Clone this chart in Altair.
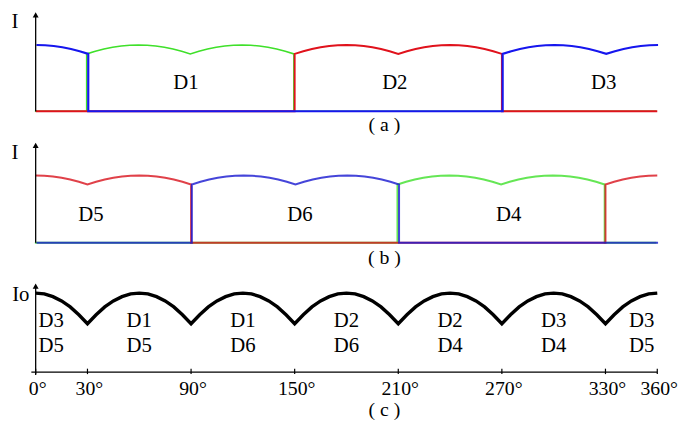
import altair as alt
import pandas as pd

# ---------------- data ----------------
grid_deg = list(range(0, 361, 5))
# one 60-degree ripple period (0..55 deg, step 5):
# peaks at 0/60/120..., dips at 30/90/150...
diode_period = [1.000, 0.996, 0.985, 0.966, 0.940, 0.906, 0.866, 0.906, 0.940, 0.966, 0.985, 0.996]
io_period = [1.000, 0.990, 0.955, 0.900, 0.825, 0.725, 0.612, 0.725, 0.825, 0.900, 0.955, 0.990]
diode_ripple = diode_period * 6 + [1.000]
io_ripple = io_period * 6 + [1.000]

# conduction intervals (degrees)
panel_a_names = ["D1", "D2", "D3"]
panel_a_intervals = [[(30, 150)], [(150, 270)], [(0, 30), (270, 360)]]
panel_a_colors = ["#3fe02a", "#e0121c", "#1616ee"]

panel_b_names = ["D4", "D5", "D6"]
panel_b_intervals = [[(210, 330)], [(0, 90), (330, 360)], [(90, 210)]]
panel_b_colors = ["#3fe02a", "#d8121c", "#1616d0"]

a_labels = ["D1", "D2", "D3"]
a_label_deg = [87, 208, 329]
b_labels = ["D5", "D6", "D4"]
b_label_deg = [32, 153, 274]
c_labels_top = ["D3", "D1", "D1", "D2", "D2", "D3", "D3"]
c_labels_bottom = ["D5", "D5", "D6", "D6", "D4", "D4", "D5"]
c_label_deg = [9, 60, 120, 180, 240, 300, 351]
tick_deg = [0, 30, 90, 150, 210, 270, 330, 360]
tick_labels = ["0°", "30°", "90°", "150°", "210°", "270°", "330°", "360°"]
captions = ["( a )", "( b )", "( c )"]
caption_deg = 202

# ---------------- layout ----------------
W, H = 680, 414
PX_PER_DEG = 629 / 360
X_LO = -(36 - 8) / PX_PER_DEG
X_HI = X_LO + W / PX_PER_DEG
FONT = "Liberation Serif"

xscale = alt.Scale(domain=[X_LO, X_HI], nice=False, zero=False)


def yscale(base_px, unit_px):
    hi = base_px / unit_px
    lo = hi - H / unit_px
    return alt.Scale(domain=[lo, hi], nice=False, zero=False)


def diode_points(intervals):
    rows = []
    for d, r in zip(grid_deg, diode_ripple):
        starts = any(a == d and a != 0 for a, b in intervals)
        ends = any(b == d and b != 360 for a, b in intervals)
        inside = any(a <= d <= b for a, b in intervals)
        if starts:
            rows += [(d, 0.0), (d, r)]
        elif ends:
            rows += [(d, r), (d, 0.0)]
        elif inside:
            rows.append((d, r))
        else:
            rows.append((d, 0.0))
    return pd.DataFrame({"deg": [p[0] for p in rows], "v": [p[1] for p in rows], "i": list(range(len(rows)))})


X = alt.X("deg:Q", scale=xscale, axis=None)
layers = []

# panel (a)
ys_a = yscale(102, 67)
for k, (name, iv, col) in enumerate(zip(panel_a_names, panel_a_intervals, panel_a_colors)):
    layers.append(
        alt.Chart(diode_points(iv)).mark_line(strokeWidth=1.6 + 0.3 * k, color=col, xOffset=0.8 * k - 0.8).encode(
            x=X, y=alt.Y("v:Q", scale=ys_a, axis=None), order="i:Q",
        )
    )

# panel (b)
ys_b = yscale(235, 68)
for k, (name, iv, col) in enumerate(zip(panel_b_names, panel_b_intervals, panel_b_colors)):
    layers.append(
        alt.Chart(diode_points(iv)).mark_line(strokeWidth=2, color=col, opacity=0.8, xOffset=0.8 * k - 0.8).encode(
            x=X, y=alt.Y("v:Q", scale=ys_b, axis=None), order="i:Q",
        )
    )

# panel (c) Io
ys_c = yscale(366, 80)
io_df = pd.DataFrame({"deg": grid_deg, "v": io_ripple})
layers.append(
    alt.Chart(io_df).mark_line(strokeWidth=3.4, color="black").encode(
        x=X, y=alt.Y("v:Q", scale=ys_c, axis=None),
    )
)

# axes: vertical arrows
one = pd.DataFrame({"deg": [0]})
for tip, base in [(1.5, 102), (133.5, 235), (276, 369)]:
    layers.append(
        alt.Chart(one).mark_rule(color="black", strokeWidth=1.3).encode(
            x=X, y=alt.value(tip + 3), y2=alt.value(base),
        )
    )
    layers.append(
        alt.Chart(one).mark_point(shape="triangle-up", filled=True, size=36, color="black", opacity=1).encode(
            x=X, y=alt.value(tip + 3),
        )
    )

# x axis of panel (c)
layers.append(
    alt.Chart(pd.DataFrame({"deg": [-2.5], "deg2": [360]})).mark_rule(color="black", strokeWidth=1.3).encode(
        x=X, x2="deg2:Q", y=alt.value(366),
    )
)
tick_df = pd.DataFrame({"deg": tick_deg, "label": tick_labels})
layers.append(
    alt.Chart(tick_df).mark_rule(color="black", strokeWidth=1.2).encode(
        x=X, y=alt.value(362.5), y2=alt.value(368),
    )
)
layers.append(
    alt.Chart(tick_df).mark_text(font=FONT, fontSize=20, baseline="alphabetic", align="center", dx=2).encode(
        x=X, y=alt.value(389), text="label:N",
    )
)


def text_layer(degs, labels, ypx, size=21):
    df = pd.DataFrame({"deg": degs, "label": labels})
    return alt.Chart(df).mark_text(font=FONT, fontSize=size, baseline="alphabetic", align="center", color="black").encode(
        x=X, y=alt.value(ypx), text="label:N",
    )


layers.append(text_layer(a_label_deg, a_labels, 79.5))
layers.append(text_layer(b_label_deg, b_labels, 213.5))
layers.append(text_layer(c_label_deg, c_labels_top, 320))
layers.append(text_layer(c_label_deg, c_labels_bottom, 345.5))
layers.append(text_layer([caption_deg], [captions[0]], 121.5, 20))
layers.append(text_layer([caption_deg], [captions[1]], 257, 20))
layers.append(text_layer([caption_deg], [captions[2]], 410.5, 20))
# axis name labels
layers.append(text_layer([X_LO + 7 / PX_PER_DEG], ["I"], 17.5))
layers.append(text_layer([X_LO + 7 / PX_PER_DEG], ["I"], 150))
layers.append(text_layer([X_LO + 13 / PX_PER_DEG], ["Io"], 294.5))

chart = (
    alt.layer(*layers)
    .resolve_scale(y="independent")
    .properties(width=W, height=H, padding=0, autosize=alt.AutoSizeParams(type="none"))
    .configure_view(stroke=None)
)

chart.save("out.html", embed_options={"renderer": "svg", "actions": False})
